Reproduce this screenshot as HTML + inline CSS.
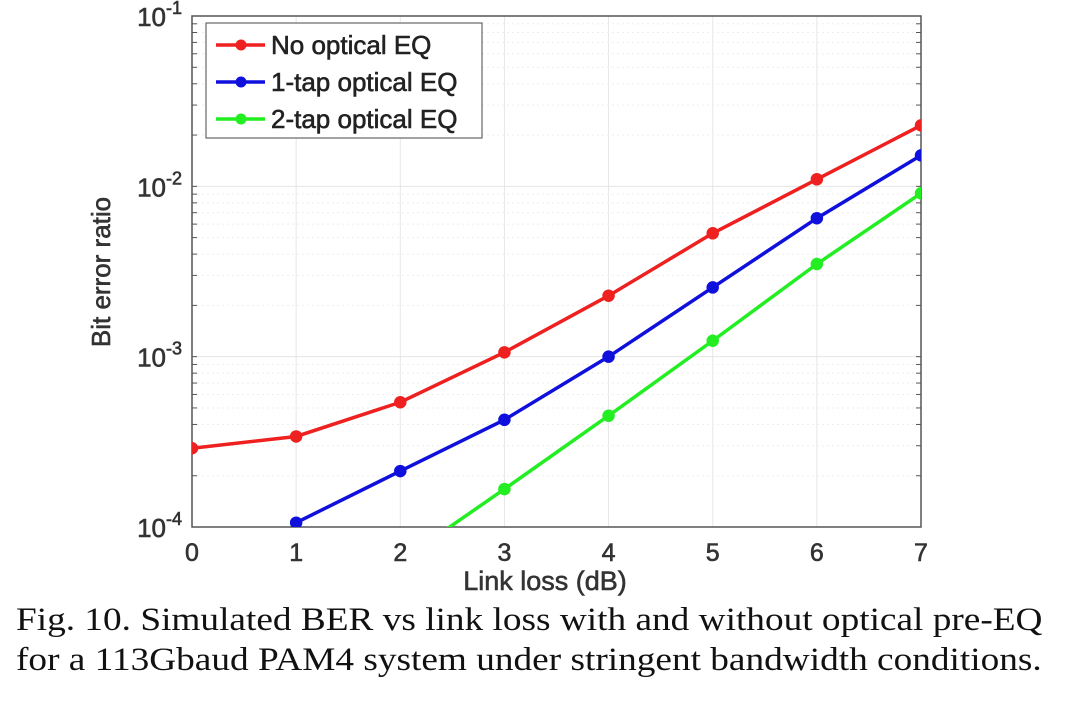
<!DOCTYPE html>
<html><head><meta charset="utf-8"><style>
html,body{margin:0;padding:0;background:#fff;width:1080px;height:718px;overflow:hidden}
.cap{position:absolute;left:16px;font-family:"Liberation Serif",serif;font-size:33px;color:#111;white-space:nowrap;transform-origin:0 0;transform:scaleX(1.13)}
</style></head><body>
<svg id="chart" width="1080" height="600" style="position:absolute;left:0;top:0" font-family="Liberation Sans, sans-serif">
<defs><clipPath id="clip"><rect x="192" y="16" width="729" height="511"/></clipPath></defs>
<g id="grid"></g><g id="axes"></g><g id="series" clip-path="url(#clip)"></g><g id="legend"></g>
</svg>
<div class="cap" style="top:602px">Fig. 10. Simulated BER vs link loss with and without optical pre-EQ</div>
<div class="cap" style="top:642px">for a 113Gbaud PAM4 system under stringent bandwidth conditions.</div>
<script>
const xCats=[0,1,2,3,4,5,6,7];
const noEQ=[2.9e-4,3.4e-4,5.4e-4,1.06e-3,2.28e-3,5.3e-3,1.1e-2,2.28e-2];
const tap1X=[1,2,3,4,5,6,7];
const tap1=[1.06e-4,2.13e-4,4.26e-4,1.0e-3,2.55e-3,6.5e-3,1.52e-2];
const tap2X=[2,3,4,5,6,7];
const tap2=[6.3e-5,1.67e-4,4.5e-4,1.24e-3,3.5e-3,9.1e-3];
const tap2Markers=[false,true,true,true,true,true];
const yDecades=[-4,-3,-2,-1];
const seriesNames=["No optical EQ","1-tap optical EQ","2-tap optical EQ"];
const seriesColors=["#ee2020","#1010dd","#22ee22"];

const L=192,R=921,T=16,B=527;
const X=v=>L+(R-L)*v/7;
const Y=v=>B-(B-T)*(Math.log10(v)+4)/3;
const NS="http://www.w3.org/2000/svg";
function mk(tag,attrs,parent,text){const e=document.createElementNS(NS,tag);for(const k in attrs)e.setAttribute(k,attrs[k]);if(text!==undefined)e.textContent=text;parent.appendChild(e);return e;}
const grid=document.getElementById('grid'),axes=document.getElementById('axes'),ser=document.getElementById('series'),leg=document.getElementById('legend');
const TXT={fill:'#333',stroke:'#333','stroke-width':0.6};
function T2(a){return Object.assign({},TXT,a);}
xCats.forEach(c=>{const l=mk('line',{x1:X(c),x2:X(c),y1:T,y2:B,stroke:'#e6e6e6','stroke-width':1},grid);

});
for(let d=-4;d<-1;d++)for(let m=1;m<10;m++){const v=m*Math.pow(10,d);const y=Y(v);
const l=mk('line',{x1:L,x2:R,y1:y,y2:y,stroke:m===1?'#e4e4e4':'#eeeeee','stroke-width':1,'stroke-dasharray':m===1?'':'2,3'},grid);


const t1=mk('line',{x1:L,x2:L+5,y1:y,y2:y,stroke:'#555'},axes);
const t2=mk('line',{x1:R,x2:R-5,y1:y,y2:y,stroke:'#555'},axes);}
const box=mk('rect',{x:L,y:T,width:R-L,height:B-T,fill:'none',stroke:'#555','stroke-width':1.5},axes);


xCats.forEach(c=>{const t=mk('text',T2({x:X(c),y:561,'text-anchor':'middle','font-size':25}),axes,String(c));

});
yDecades.forEach(d=>{const y=Y(Math.pow(10,d));const g=mk('text',T2({x:182,y:y+10,'text-anchor':'end','font-size':26}),axes);


mk('tspan',{},g,'10');mk('tspan',{dy:-12,'font-size':18},g,String(d));});
const xt=mk('text',T2({x:545,y:590,'text-anchor':'middle','font-size':27}),axes,'Link loss (dB)');


const yt=mk('text',T2({x:0,y:0,transform:'translate(110,272) rotate(-90)','text-anchor':'middle','font-size':26}),axes,'Bit error ratio');


function drawSeries(xs,vs,color,name,markers){
const g=mk('g',{},ser);


mk('polyline',{points:xs.map((x,i)=>X(x)+','+Y(vs[i])).join(' '),fill:'none',stroke:color,'stroke-width':3.5},g);
xs.forEach((x,i)=>{if(markers&&!markers[i])return;const c=mk('circle',{cx:X(x),cy:Y(vs[i]),r:5.5,fill:color,stroke:color,'stroke-width':1.5},g);

});}
drawSeries(xCats,noEQ,seriesColors[0],'no-eq-series');
drawSeries(tap1X,tap1,seriesColors[1],'tap1-series');
drawSeries(tap2X,tap2,seriesColors[2],'tap2-series',tap2Markers);
const lb=mk('rect',{x:206,y:23,width:276,height:115,fill:'#fff',stroke:'#666','stroke-width':1.2},leg);


seriesNames.forEach((n,i)=>{const y=45+i*37;const g=mk('g',{},leg);


mk('line',{x1:216,x2:265,y1:y,y2:y,stroke:seriesColors[i],'stroke-width':3.5},g);
mk('circle',{cx:241,cy:y,r:5.5,fill:seriesColors[i]},g);
mk('text',{x:271,y:y+9,'font-size':26,fill:'#222',stroke:'#222','stroke-width':0.6},g,n);});
</script>
</body></html>
